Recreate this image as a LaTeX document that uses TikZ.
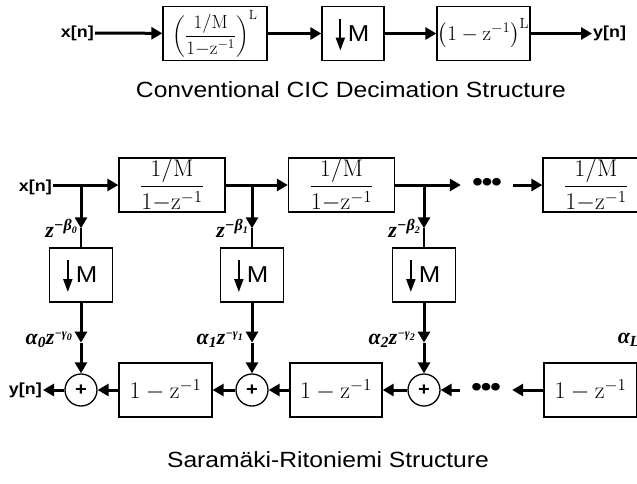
\documentclass[tikz,border=0pt]{standalone}
\usepackage{fix-cm}
\usepackage{amsmath}
\usepackage[no-math]{fontspec}
\setmainfont{Liberation Sans}[FakeStretch=1.12]
\newfontfamily\tnr{Liberation Serif}
\usetikzlibrary{positioning,arrows.meta,calc}
% z^{-x_k} with a given size of the exponent
\newcommand\zpow[3]{z\raisebox{7pt}{\fontsize{#1}{#1}\selectfont −#2\raisebox{-3pt}{\fontsize{10}{10}\selectfont #3}}}

\begin{document}
\begin{tikzpicture}[x=1pt,y=-1pt]
    \tikzstyle{block}=[rectangle, draw=black, line width=1.3pt, minimum height=54pt, inner sep=0pt]
    \tikzstyle{sum}=[circle, draw=black, line width=1.3pt, minimum size=32pt, inner sep=0pt, font=\fontsize{18}{18}\selectfont\bfseries]
    \tikzstyle{connect}=[line width=3pt, -{Triangle[length=11pt,width=12pt]}]
    \tikzstyle{wire}=[line width=3pt]
    \tikzstyle{tap}=[line width=1.5pt]
    \tikzstyle{down}=[line width=2pt, -{Triangle[length=13pt,width=9pt]}]
    \tikzstyle{sig}=[inner sep=1pt, font=\fontsize{16}{16}\selectfont\bfseries]
    \tikzstyle{coef}=[inner sep=1pt, font=\fontsize{22}{22}\selectfont\tnr\bfseries\itshape]
    \tikzstyle{caption}=[font=\fontsize{22}{26}\selectfont]
    \tikzstyle{dots}=[inner xsep=11pt, inner ysep=0pt, font=\fontsize{28}{28}\selectfont]
    \tikzstyle{decim}=[block, font=\fontsize{23}{23}\selectfont]
    \tikzstyle{integ}=[block, minimum width=106pt, font=\fontsize{24}{26}\selectfont]
    \tikzstyle{comb}=[block, font=\fontsize{24}{26}\selectfont]
    \useasboundingbox (0,0) rectangle (637,483);
    \clip (0,0) rectangle (637,483);

    % conventional CIC
    \node[sig, anchor=east] (xa) at (95,33) {x[n]};
    \node[block, minimum width=104pt, font=\fontsize{19}{20}\selectfont] (ia) at (215,33.5)
      {$\left(\dfrac{1/\mathrm{M}}{1{-}\mathrm{z}^{-1}}\right)^{\mathrm{L}}$};
    \node[decim, minimum width=62pt] (deca) at (353,33.5) {\hspace*{11pt}M};
    \node[block, minimum width=93pt, font=\fontsize{21}{22}\selectfont] (ca) at (483.5,33.5)
      {$\left(\vrule height 17pt depth 8pt width 0pt 1-\mathrm{z}^{-1}\right)^{\mathrm{L}}$};
    \node[sig, anchor=west] (ya) at (592,33.5) {y[n]};
    \node[caption] (capa) at (351,90) {Conventional CIC Decimation Structure};
    \path
      (xa) edge [connect] (ia)
      (ia) edge [connect] (deca)
      (deca) edge [connect] (ca)
      (ca) edge [connect] (ya);

    % Saramaki-Ritoniemi, top row
    \node[sig, anchor=east] (xb) at (53,187) {x[n]};
    \coordinate (b0) at (81,185);
    \node[integ] (i1) at (172,185) {$\dfrac{1/\mathrm{M}}{1{-}\mathrm{z}^{-1}}$};
    \coordinate (b1) at (252,185);
    \node[integ] (i2) at (341.5,185) {$\dfrac{1/\mathrm{M}}{1{-}\mathrm{z}^{-1}}$};
    \coordinate (b2) at (424,185);
    \node[dots] (dta) at (487,185) {•\kern-1.5pt•\kern-1.5pt•};
    \node[integ] (iL) at (596,185) {$\dfrac{1/\mathrm{M}}{1{-}\mathrm{z}^{-1}}$};
    \coordinate (bL) at (676,185);

    % decimators
    \node[decim, minimum width=63pt] (m0) at (81,275) {\hspace*{11pt}M};
    \node[decim, minimum width=63pt] (m1) at (252,275) {\hspace*{11pt}M};
    \node[decim, minimum width=63pt] (m2) at (424,275) {\hspace*{11pt}M};
    \foreach \d in {deca,m0,m1,m2}
      \draw[down] ($(\d.west)+(19,-15)$) -- ($(\d.west)+(19,17)$);
    \foreach \k in {0,1,2}{
      \coordinate[above=19pt of m\k] (h\k);
      \coordinate[below=40pt of m\k] (g\k);
    }
    \coordinate (hL) at (676,229);
    \coordinate (gL) at (676,342);

    % bottom row
    \node[sum] (s0) at (81,390) {+};
    \node[comb, minimum width=93pt] (c1) at (165.5,390) {$1-\mathrm{z}^{-1}$};
    \node[sum] (s1) at (252,390) {+};
    \node[comb, minimum width=92pt] (c2) at (336,390) {$1-\mathrm{z}^{-1}$};
    \node[sum] (s2) at (424,390) {+};
    \node[dots] (dtb) at (486,390) {•\kern-1.5pt•\kern-1.5pt•};
    \node[comb, minimum width=93pt] (cL) at (590.5,390) {$1-\mathrm{z}^{-1}$};
    \coordinate (cLin) at (700,390);
    \node[sig, anchor=east] (yb) at (43,390) {y[n]};
    \node[caption] (capb) at (328,460) {Saramäki-Ritoniemi Structure};

    % coefficients
    \node[coef, left=3pt of h0] (zb0) {\zpow{16}{β}{0}};
    \node[coef, left=3pt of h1] (zb1) {\zpow{16}{β}{1}};
    \node[coef, left=3pt of h2] (zb2) {\zpow{16}{β}{2}};
    \node[coef, left=3pt of hL] (zbL) {\zpow{16}{β}{L}};
    \node[coef, left=8pt of g0, yshift=3pt] (ag0) {α\textsubscript{0}\zpow{12}{γ}{0}};
    \node[coef, left=8pt of g1, yshift=3pt] (ag1) {α\textsubscript{1}\zpow{12}{γ}{1}};
    \node[coef, left=8pt of g2, yshift=3pt] (ag2) {α\textsubscript{2}\zpow{12}{γ}{2}};
    \node[coef, left=8pt of gL, yshift=3pt] (agL) {α\textsubscript{L}\zpow{12}{γ}{L}};

    % connections
    \draw[connect] (xb.east |- b0) -- (i1);
    \draw[connect] (i1) -- (i2);
    \draw[connect] (i2) -- (dta);
    \draw[connect] (dta) -- (iL);
    \draw[wire] (iL) -- (bL);
    \foreach \k in {0,1,2}{
      \draw[connect] (b\k) -- (h\k);
      \draw[tap] (h\k) -- (m\k);
      \draw[connect] (m\k) -- (g\k);
      \draw[connect] (g\k) -- (s\k);
    }
    \draw[connect] (cLin) -- (cL);
    \draw[connect] (cL) -- (dtb);
    \draw[connect] (dtb) -- (s2);
    \draw[connect] (s2) -- (c2);
    \draw[connect] (c2) -- (s1);
    \draw[connect] (s1) -- (c1);
    \draw[connect] (c1) -- (s0);
    \draw[connect] (s0) -- (yb.east |- s0);
\end{tikzpicture}
\end{document}
